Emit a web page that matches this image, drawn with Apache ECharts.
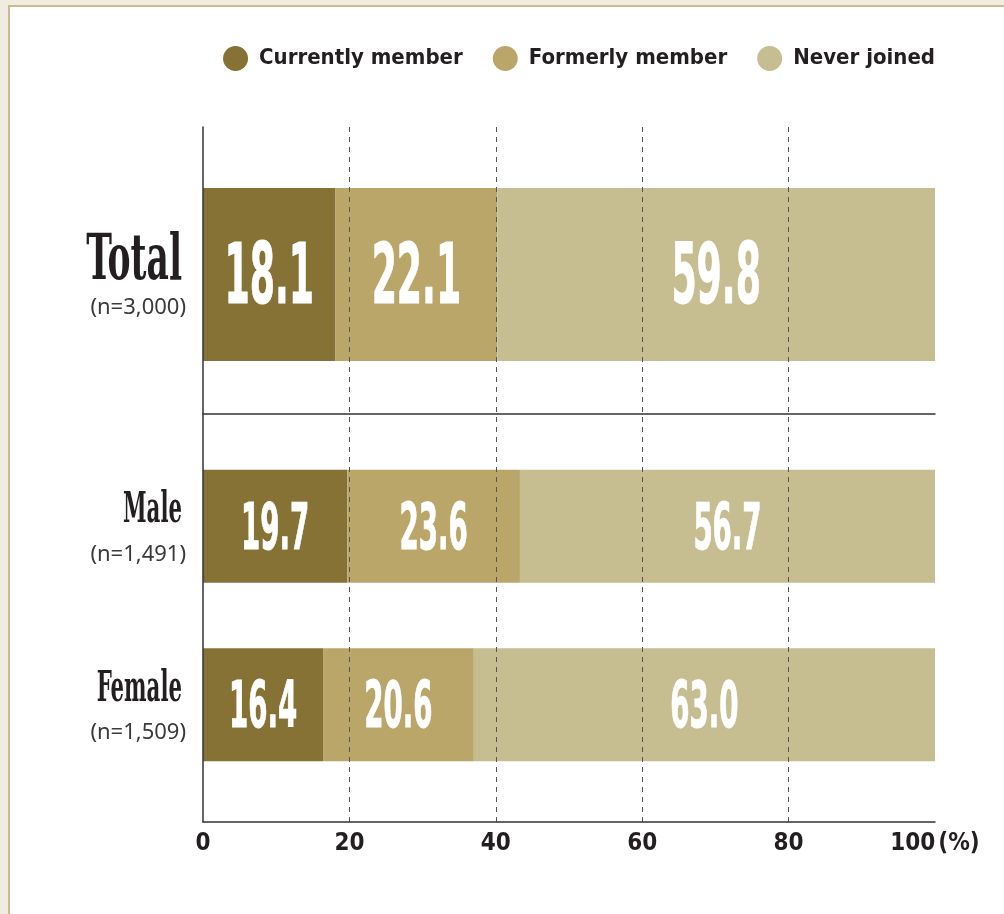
<!DOCTYPE html>
<html lang="en">
<head>
<meta charset="UTF-8">
<title>Membership status</title>
<script src="https://cdn.jsdelivr.net/npm/echarts@6/dist/echarts.min.js"></script>
<style>
    html, body { margin: 0; padding: 0; background: #f0ece1; overflow: hidden; }
    .panel {
        position: absolute; left: 8px; top: 5px; right: 0; bottom: 0;
        background: #fff;
        border-left: 2px solid #cbbb8c;
        border-top: 2px solid #cbbb8c;
    }
    #chart { position: absolute; left: 0; top: 0; width: 1004px; height: 914px; }
</style>
</head>
<body>
<div class="panel"></div>
<div id="chart"></div>
<script>
const groups = ['Total', 'Male', 'Female'];
const sampleSizes = ['n=3,000', 'n=1,491', 'n=1,509'];
const seriesNames = ['Currently member', 'Formerly member', 'Never joined'];
const currently = [18.1, 19.7, 16.4];
const formerly = [22.1, 23.6, 20.6];
const never = [59.8, 56.7, 63.0];
const xTicks = [0, 20, 40, 60, 80, 100];

const colors = ['#867234', '#bba66a', '#c6bd91'];
const ink = '#231f20';
const narrow = '"Liberation Sans Narrow", "DejaVu Sans Condensed", sans-serif';
const slab = '"DejaVu Serif Condensed", "DejaVu Serif", serif';
const values = [currently, formerly, never];

// grid 0 = frame/axes, grid 1 = Total, grid 2 = Male/Female
const topGroup = [0];
const lowGroups = [1, 2];

function segmentItems(rows) {
    const items = [];
    rows.forEach((g, c) => {
        let start = 0;
        values.forEach(v => {
            items.push([start, start + v[g], c, v[g]]);
            start += v[g];
        });
    });
    return items;
}

function valueLabel(size, dy) {
    return function (params, api) {
        const a = api.coord([api.value(0), api.value(2)]);
        const b = api.coord([api.value(1), api.value(2)]);
        return {
            type: 'text',
            x: (a[0] + b[0]) / 2,
            y: a[1] + dy,
            scaleX: 0.48,
            style: {
                text: api.value(3).toFixed(1),
                fontSize: size,
                fontFamily: narrow,
                fontWeight: 'bold',
                fill: '#fff',
                stroke: '#fff',
                lineWidth: 1,
                align: 'center',
                verticalAlign: 'middle'
            }
        };
    };
}

function groupLabel(rows, size, sx, nameDy, countDy) {
    return function (params, api) {
        const c = api.value(1);
        const g = rows[c];
        const p = api.coord([0, c]);
        return {
            type: 'group',
            children: [
                {
                    type: 'text',
                    x: p[0] - 21,
                    y: p[1] + nameDy,
                    scaleX: sx,
                    style: {
                        text: groups[g],
                        fontSize: size,
                        fontFamily: slab,
                        fontWeight: 'bold',
                        fill: ink,
                        align: 'right',
                        verticalAlign: 'middle'
                    }
                },
                {
                    type: 'text',
                    x: p[0] - 17,
                    y: p[1] + countDy,
                    style: {
                        text: '(' + sampleSizes[g] + ')',
                        fontSize: 22,
                        fontFamily: '"Noto Sans", sans-serif',
                        fill: '#3a3a3a',
                        align: 'right',
                        verticalAlign: 'middle'
                    }
                }
            ]
        };
    };
}

const series = [];
seriesNames.forEach((name, s) => {
    series.push({
        type: 'bar', name: name, stack: 'top', xAxisIndex: 1, yAxisIndex: 1,
        barWidth: 173, itemStyle: { color: colors[s] },
        data: topGroup.map(g => values[s][g])
    });
    series.push({
        type: 'bar', name: name, stack: 'low', xAxisIndex: 2, yAxisIndex: 2,
        barWidth: 113, itemStyle: { color: colors[s] },
        data: lowGroups.map(g => values[s][g])
    });
});
series.push({
    type: 'custom', xAxisIndex: 1, yAxisIndex: 1, z: 5,
    encode: { x: [0, 1], y: 2 },
    renderItem: valueLabel(84, 7),
    data: segmentItems(topGroup)
});
series.push({
    type: 'custom', xAxisIndex: 2, yAxisIndex: 2, z: 5,
    encode: { x: [0, 1], y: 2 },
    renderItem: valueLabel(64, 6),
    data: segmentItems(lowGroups)
});
series.push({
    type: 'custom', xAxisIndex: 1, yAxisIndex: 1,
    encode: { x: 0, y: 1 },
    renderItem: groupLabel(topGroup, 64, 0.6, -12, 33),
    data: topGroup.map((g, c) => [0, c])
});
series.push({
    type: 'custom', xAxisIndex: 2, yAxisIndex: 2,
    encode: { x: 0, y: 1 },
    renderItem: groupLabel(lowGroups, 43, 0.55, -15, 28),
    data: lowGroups.map((g, c) => [0, c])
});

const hiddenX = {
    type: 'value', min: 0, max: 100,
    axisLabel: { show: false }, axisTick: { show: false }, splitLine: { show: false }
};

const chart = echarts.init(document.getElementById('chart'));
chart.setOption({
    animation: false,
    legend: {
        data: seriesNames,
        right: 69,
        top: 46,
        padding: 0,
        icon: 'circle',
        itemWidth: 25,
        itemHeight: 25,
        itemGap: 30,
        selectedMode: false,
        textStyle: {
            fontFamily: narrow,
            fontWeight: 'bold',
            fontSize: 22,
            color: ink,
            padding: [0, 0, 0, 6]
        }
    },
    grid: [
        { left: 203, right: 69, top: 127, bottom: 92 },
        { left: 203, right: 69, top: 135, bottom: 500 },
        { left: 203, right: 69, top: 437, bottom: 120 }
    ],
    xAxis: [
        {
            type: 'value', gridIndex: 0, min: xTicks[0], max: xTicks[xTicks.length - 1],
            interval: xTicks[1] - xTicks[0], z: 4,
            axisLine: { show: true, lineStyle: { color: '#333', width: 1.5 } },
            axisTick: { show: false },
            axisLabel: {
                margin: 10,
                fontFamily: narrow, fontWeight: 'bold', fontSize: 24, color: ink,
                formatter: v => v === 100 ? '{a|100}{b|(%)}' : String(v),
                rich: {
                    a: { fontFamily: narrow, fontWeight: 'bold', fontSize: 24, color: ink },
                    b: { fontFamily: narrow, fontSize: 24, color: ink, padding: [0, 0, 0, 3] }
                }
            },
            splitLine: {
                show: true, showMinLine: false, showMaxLine: false,
                lineStyle: { color: '#555', type: [5, 5], width: 1 }
            }
        },
        Object.assign({ gridIndex: 1, z: 4,
            axisLine: { show: true, lineStyle: { color: '#333', width: 1.5 } } }, hiddenX),
        Object.assign({ gridIndex: 2, axisLine: { show: false } }, hiddenX)
    ],
    yAxis: [
        {
            type: 'value', gridIndex: 0, min: 0, max: 1, z: 4,
            axisLine: { show: true, lineStyle: { color: '#333', width: 1.5 } },
            axisTick: { show: false }, axisLabel: { show: false }, splitLine: { show: false }
        },
        {
            type: 'category', gridIndex: 1, inverse: true,
            data: topGroup.map(g => groups[g]),
            axisLine: { show: false }, axisTick: { show: false }, axisLabel: { show: false }
        },
        {
            type: 'category', gridIndex: 2, inverse: true,
            data: lowGroups.map(g => groups[g]),
            axisLine: { show: false }, axisTick: { show: false }, axisLabel: { show: false }
        }
    ],
    series: series
});
</script>
</body>
</html>
